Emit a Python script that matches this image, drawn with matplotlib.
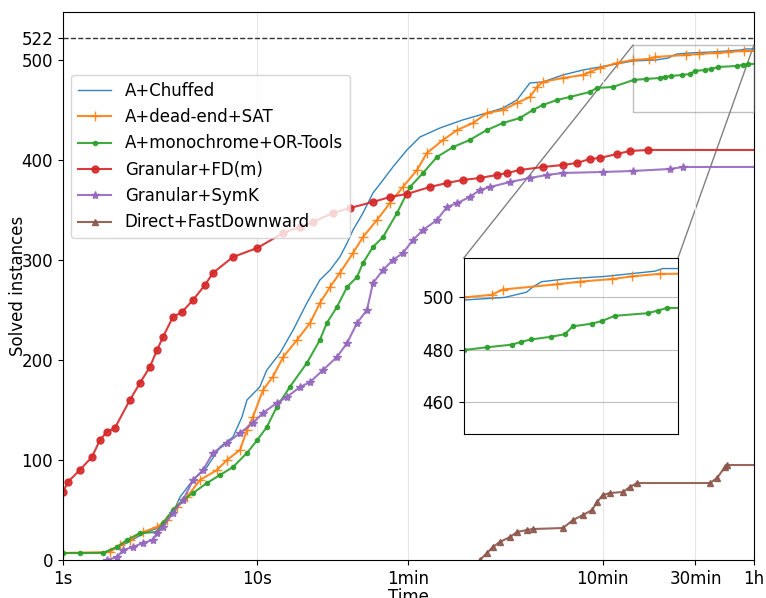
import matplotlib
matplotlib.use("Agg")
import matplotlib.pyplot as plt
from matplotlib.patches import ConnectionPatch

# data (time in seconds, solved instances)
chuffed_t = [1.6, 1.83, 2.13, 2.63, 3.16, 3.68, 4.0, 4.67, 5.51, 6.43, 7.5, 8.34, 8.85,
             10.3, 11.2, 13.1, 15.3, 18.0, 21.0, 23.7, 26.6, 29.0, 31.1, 35.0, 39.4,
             44.4, 49.9, 58.9, 68.8, 87.2, 114, 152, 184, 217, 253, 295, 374, 475, 580,
             860, 1131, 1309, 1364, 1449, 1689, 2208, 3086, 3254, 3600]
chuffed_v = [7, 12, 17, 27, 33, 47, 63, 80, 93, 113, 123, 143, 160,
             173, 190, 207, 230, 257, 280, 290, 303, 317, 330, 347, 367,
             380, 393, 410, 423, 432, 440, 447, 452, 460, 477, 478, 485, 490, 493,
             499, 500, 502, 504, 506, 507, 508, 510, 511, 511]

deadend_t = [1.0, 1.75, 1.96, 2.21, 2.58, 3.05, 3.43, 3.86, 4.35, 5.07, 6.2, 6.98, 8.15,
             8.85, 9.5, 10.7, 12.0, 13.6, 16.0, 18.7, 21.0, 23.7, 26.6, 31.1, 35.0,
             41.3, 48.2, 56.2, 66.4, 74.7, 90.3, 107, 129, 152, 184, 217, 253, 275,
             295, 374, 475, 515, 580, 710, 860, 1036, 1115, 1600, 1866, 2312, 2644,
             3189, 3600]
deadend_v = [7, 8, 15, 20, 28, 33, 40, 53, 63, 80, 90, 100, 110,
             130, 143, 170, 183, 203, 220, 237, 257, 273, 287, 307, 323,
             340, 357, 373, 390, 407, 420, 430, 437, 447, 450, 457, 463, 473,
             478, 482, 485, 488, 492, 497, 500, 501, 503, 505, 506, 507, 508,
             509, 509]

mono_t = [1.0, 1.22, 1.61, 1.9, 2.13, 2.49, 3.05, 3.27, 3.68, 4.15, 4.67, 5.51, 6.43,
          7.5, 8.85, 10.0, 11.2, 12.6, 14.7, 18.0, 21.0, 22.8, 25.7, 29.0, 32.6, 35.0,
          39.4, 44.4, 52.4, 61.1, 71.3, 84.1, 102, 124, 152, 184, 225, 262, 295, 349,
          406, 515, 560, 677, 864, 1002, 1184, 1258, 1346, 1539, 1690, 1783, 2024,
          2163, 2360, 2944, 3148, 3343, 3600]
mono_v = [7, 7, 7, 13, 20, 27, 28, 37, 50, 60, 67, 77, 85,
          93, 107, 120, 133, 153, 173, 197, 220, 237, 253, 273, 283, 297,
          313, 323, 347, 373, 387, 403, 413, 420, 430, 437, 442, 450, 455, 460,
          463, 468, 472, 473, 480, 481, 482, 483, 484, 485, 486, 489, 490,
          491, 493, 494, 495, 496, 496]

fdm_t = [1.0, 1.06, 1.22, 1.41, 1.55, 1.68, 1.85, 2.21, 2.49, 2.8, 3.05, 3.27, 3.68,
         4.1, 4.67, 5.38, 5.91, 7.5, 10.0, 13.6, 16.6, 19.4, 24.5, 30.0, 39.4, 48.2,
         58.9, 77.4, 94.7, 114, 140, 171, 193, 225, 295, 374, 442, 515, 580, 710,
         828, 1025, 3600]
fdm_v = [68, 78, 90, 103, 120, 128, 132, 160, 177, 193, 210, 223, 243,
         248, 260, 275, 287, 303, 312, 327, 333, 338, 347, 352, 358, 363,
         366, 373, 377, 380, 382, 385, 387, 390, 393, 395, 397, 401, 402, 406,
         409, 410, 410]

symk_t = [1.68, 1.9, 2.04, 2.29, 2.58, 2.9, 3.05, 3.27, 3.68, 4.15, 4.67, 5.26, 5.91,
          6.98, 8.15, 9.5, 10.7, 12.6, 14.2, 16.6, 18.7, 21.8, 25.7, 29.0, 32.6, 36.7,
          39.4, 44.4, 49.9, 56.2, 63.3, 71.3, 84.1, 94.7, 107, 124, 140, 158, 200,
          253, 310, 374, 600, 859, 1331, 1553, 3600]
symk_v = [0, 3, 10, 13, 17, 20, 27, 33, 47, 60, 80, 90, 107,
          117, 127, 137, 147, 157, 163, 173, 178, 190, 203, 217, 237, 250,
          277, 290, 300, 307, 320, 330, 340, 353, 357, 363, 370, 373, 378,
          382, 385, 387, 388, 389, 391, 393, 393]

direct_t = [140, 152, 163, 177, 200, 217, 244, 262, 374, 422, 475, 528, 560, 600, 653,
            762, 828, 900, 2138, 2323, 2553, 2613, 3600]
direct_v = [0, 7, 13, 18, 23, 28, 30, 31, 32, 40, 45, 50, 58, 65, 67,
            68, 73, 77, 77, 82, 93, 95, 95]

total = 522
xticks = [1, 10, 60, 600, 1800, 3600]
xlabels = ["1s", "10s", "1min", "10min", "30min", "1h"]
yticks = [0, 100, 200, 300, 400, 500, 522]
zoom_x = (860, 3600)
zoom_y = (448, 515)

series = [
    ("A+Chuffed", chuffed_t, chuffed_v, "C0", None, 1.0, 0),
    ("A+dead-end+SAT", deadend_t, deadend_v, "C1", "+", 1.5, 7),
    ("A+monochrome+OR-Tools", mono_t, mono_v, "C2", ".", 1.5, 6),
    ("Granular+FD(m)", fdm_t, fdm_v, "C3", "o", 1.5, 5),
    ("Granular+SymK", symk_t, symk_v, "C4", "*", 1.5, 6),
    ("Direct+FastDownward", direct_t, direct_v, "C5", "^", 1.5, 5),
]

plt.rcParams["font.size"] = 12
fig = plt.figure(figsize=(7.66, 5.98), dpi=100)
ax = fig.add_axes([0.0822, 0.0635, 0.9021, 0.9165])

def draw(a):
    for name, t, v, c, m, lw, ms in series:
        a.plot(t, v, color=c, marker=m, markersize=ms, linewidth=lw,
               markevery=slice(0, len(t) - 1), alpha=0.9, label=name)

draw(ax)
ax.axhline(total, color="0.2", linestyle="--", linewidth=1)
ax.set_xscale("log")
ax.set_xlim(1, 3600)
ax.set_ylim(0, 548)
ax.set_xticks(xticks)
ax.set_xticklabels(xlabels)
ax.minorticks_off()
ax.set_yticks(yticks)
ax.grid(True, axis="x", color="0.9")
ax.set_xlabel("Time", labelpad=0)
ax.set_ylabel("Solved instances")
ax.yaxis.set_label_coords(-0.052, 0.5)
ax.legend(loc="upper left", bbox_to_anchor=(0.0, 0.9), fontsize=12)

# zoomed inset on the top right corner
axins = ax.inset_axes([0.58, 0.23, 0.31, 0.321])
draw(axins)
axins.set_xscale("log")
axins.set_xlim(*zoom_x)
axins.set_ylim(*zoom_y)
axins.set_xticks([])
axins.minorticks_off()
axins.set_yticks([460, 480, 500])
axins.grid(True, axis="y", color="0.75")
axins.set_facecolor("none")

ax.indicate_inset([zoom_x[0], zoom_y[0], zoom_x[1] - zoom_x[0], zoom_y[1] - zoom_y[0]],
                  edgecolor="0.5", alpha=0.5)
for xd, xa in [(zoom_x[0], 0), (zoom_x[1], 1)]:
    con = ConnectionPatch(xyA=(xd, zoom_y[1]), coordsA=ax.transData,
                          xyB=(xa, 1), coordsB=axins.transAxes,
                          color="0.5", linewidth=1)
    ax.add_artist(con)

fig.savefig("out.png", dpi=100)
